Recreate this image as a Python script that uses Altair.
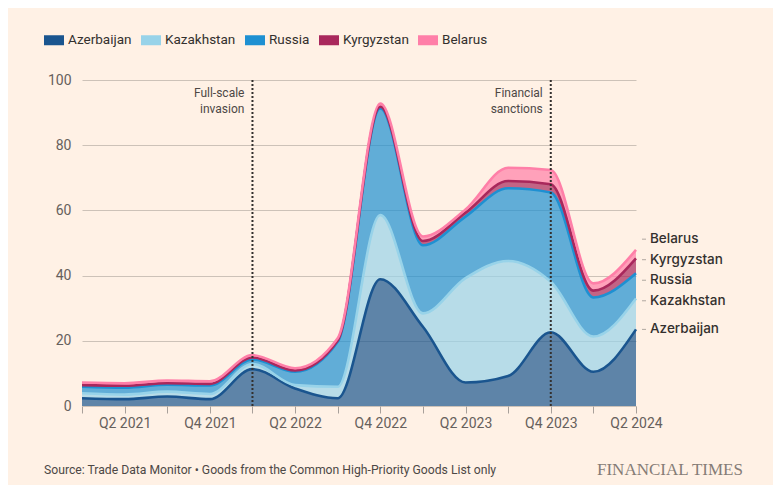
import json
import pandas as pd
import altair as alt

# ---------------- data ----------------
quarters = ["Q1 2021", "Q2 2021", "Q3 2021", "Q4 2021",
            "Q1 2022", "Q2 2022", "Q3 2022", "Q4 2022",
            "Q1 2023", "Q2 2023", "Q3 2023", "Q4 2023",
            "Q1 2024", "Q2 2024"]
countries = ["Azerbaijan", "Kazakhstan", "Russia", "Kyrgyzstan", "Belarus"]
azerbaijan = [2.4, 2.1, 2.9, 2.1, 11.3, 5.4, 2.4, 38.9, 24.3, 7.2, 9.2, 22.6, 10.5, 23.5]
kazakhstan = [1.5, 1.4, 1.5, 1.6, 1.6, 1.0, 3.5, 19.7, 4.1, 32.0, 35.3, 15.5, 10.8, 9.5]
russia = [2.0, 2.1, 2.1, 2.6, 1.4, 4.1, 13.8, 32.7, 20.9, 18.9, 22.3, 27.4, 12.0, 7.7]
kyrgyzstan = [0.5, 0.6, 0.5, 0.5, 0.6, 0.4, 0.4, 0.5, 1.3, 1.2, 2.2, 2.5, 2.1, 4.6]
belarus = [0.8, 0.8, 0.8, 0.8, 0.7, 0.7, 0.7, 1.0, 1.4, 1.0, 4.1, 4.4, 2.2, 2.6]
event_quarters = ["Q1 2022", "Q4 2023"]
event_labels = [["Full-scale", "invasion"], ["Financial", "sanctions"]]
y_ticks = [0, 20, 40, 60, 80, 100]
source_text = "Source: Trade Data Monitor \u2022 Goods from the Common High-Priority Goods List only"
brand_text = "FINANCIAL TIMES"

colors = ["#1a558f", "#98d3e9", "#1e90d2", "#a9285c", "#ff7fa8"]

series = [azerbaijan, kazakhstan, russia, kyrgyzstan, belarus]

# ---------------- build stacked table ----------------
rows = []
lower = [0.0] * len(quarters)
for c, vals in zip(countries, series):
    for i, v in enumerate(vals):
        rows.append({"idx": i, "quarter": quarters[i], "country": c,
                     "value": v, "lower": lower[i], "upper": lower[i] + v})
    lower = [lower[i] + vals[i] for i in range(len(quarters))]
df = pd.DataFrame(rows)

# end labels: start at band tops, then spread clusters apart
last = len(quarters) - 1
tops = df[df.idx == last].set_index("country")["upper"].to_dict()
gap = 6.3
clusters = [[c] for c in sorted(countries, key=lambda c: tops[c])]
def positions(cl):
    m = sum(tops[c] for c in cl) / len(cl)
    n = len(cl)
    return [m + (k - (n - 1) / 2) * gap for k in range(n)]
changed = True
while changed:
    changed = False
    for k in range(len(clusters) - 1):
        a, b = clusters[k], clusters[k + 1]
        if positions(b)[0] - positions(a)[-1] < gap - 1e-9:
            clusters[k:k + 2] = [a + b]
            changed = True
            break
lab = []
for cl in clusters:
    for c, p in zip(cl, positions(cl)):
        lab.append({"country": c, "idx": last, "ly": p})
lab_df = pd.DataFrame(lab)

ev_df = pd.DataFrame({"idx": [quarters.index(q) for q in event_quarters],
                      "label": event_labels, "y0": 0, "y1": 100})

FONT = "Roboto"
W, H = 554, 326

x_scale = alt.Scale(domain=[0, last], nice=False, zero=False)
y_scale = alt.Scale(domain=[0, 100], nice=False)
color_scale = alt.Scale(domain=countries, range=colors)

label_expr = ("datum.value % 2 == 1 ? " + json.dumps(quarters) + "[datum.value] : ''")

x_enc = alt.X("idx:Q", scale=x_scale,
              axis=alt.Axis(values=list(range(len(quarters))), labelExpr=label_expr,
                            tickSize=7, tickColor="#a8a09a", tickWidth=1, domain=False,
                            grid=False, labelFontSize=14, labelColor="#66605c",
                            labelPadding=3, labelFlush=False, labelOverlap=False,
                            labelFont=FONT, title=None))

areas = alt.Chart(df).mark_area(interpolate="monotone", fillOpacity=0.7).encode(
    x=x_enc,
    y=alt.Y("upper:Q", scale=y_scale,
            axis=alt.Axis(values=y_ticks, tickSize=0, domain=False, gridColor="#cdc2b8",
                          labelPadding=11, labelFontSize=14, labelColor="#66605c",
                          labelFont=FONT, title=None)),
    y2="lower:Q",
    color=alt.Color("country:N", scale=color_scale,
                    legend=alt.Legend(orient="none", legendX=-38, legendY=-50,
                                      direction="horizontal", title=None,
                                      symbolType="M-1,-0.5H1V0.5H-1Z", symbolSize=400,
                                      symbolStrokeWidth=0, symbolOpacity=1,
                                      labelFontSize=13.5, labelColor="#33302e",
                                      labelFont=FONT, labelOffset=4, columnPadding=9,
                                      padding=0)),
)

lines = alt.Chart(df).mark_line(interpolate="monotone", strokeWidth=2.6).encode(
    x="idx:Q",
    y="upper:Q",
    color=alt.Color("country:N", scale=color_scale),
)

ev_rules = alt.Chart(ev_df).mark_rule(strokeDash=[2, 2], strokeWidth=2, color="#33302e").encode(
    x="idx:Q", y="y0:Q", y2="y1:Q")

ev_text = alt.Chart(ev_df).mark_text(align="right", baseline="top", dx=-8, dy=8,
                                     fontSize=12, lineHeight=16, color="#4d4845",
                                     font=FONT).encode(
    x="idx:Q", y="y1:Q", text="label")

end_text = alt.Chart(lab_df).mark_text(align="left", baseline="middle", dx=14,
                                       fontSize=13.5, fontWeight=500, color="#33302e",
                                       font="Inter").encode(
    x="idx:Q", y="ly:Q", text="country:N")

end_ticks = alt.Chart(lab_df).mark_rule(color="#b0a8a0", strokeWidth=1).encode(
    x=alt.value(W + 6), x2=alt.value(W + 10), y="ly:Q")

foot_df = pd.DataFrame({"src": [source_text], "brand": [brand_text]})
source = alt.Chart(foot_df).mark_text(align="left", baseline="middle", fontSize=12.2,
                                      color="#4d4845", font=FONT).encode(
    x=alt.value(-38), y=alt.value(390), text="src:N")
brand = alt.Chart(foot_df).mark_text(align="left", baseline="middle", fontSize=17,
                                     color="#857c76", font="Liberation Serif").encode(
    x=alt.value(515), y=alt.value(390), text="brand:N")

chart = alt.layer(areas, lines, ev_rules, ev_text, end_ticks, end_text, source, brand).properties(
    width=W, height=H,
    autosize=alt.AutoSizeParams(type="none"),
    padding={"left": 74, "top": 72, "right": 137, "bottom": 79},
    background="#fff1e5",
).configure_view(stroke=None)

chart.save("out.html", embed_options={"renderer": "svg", "actions": False})
